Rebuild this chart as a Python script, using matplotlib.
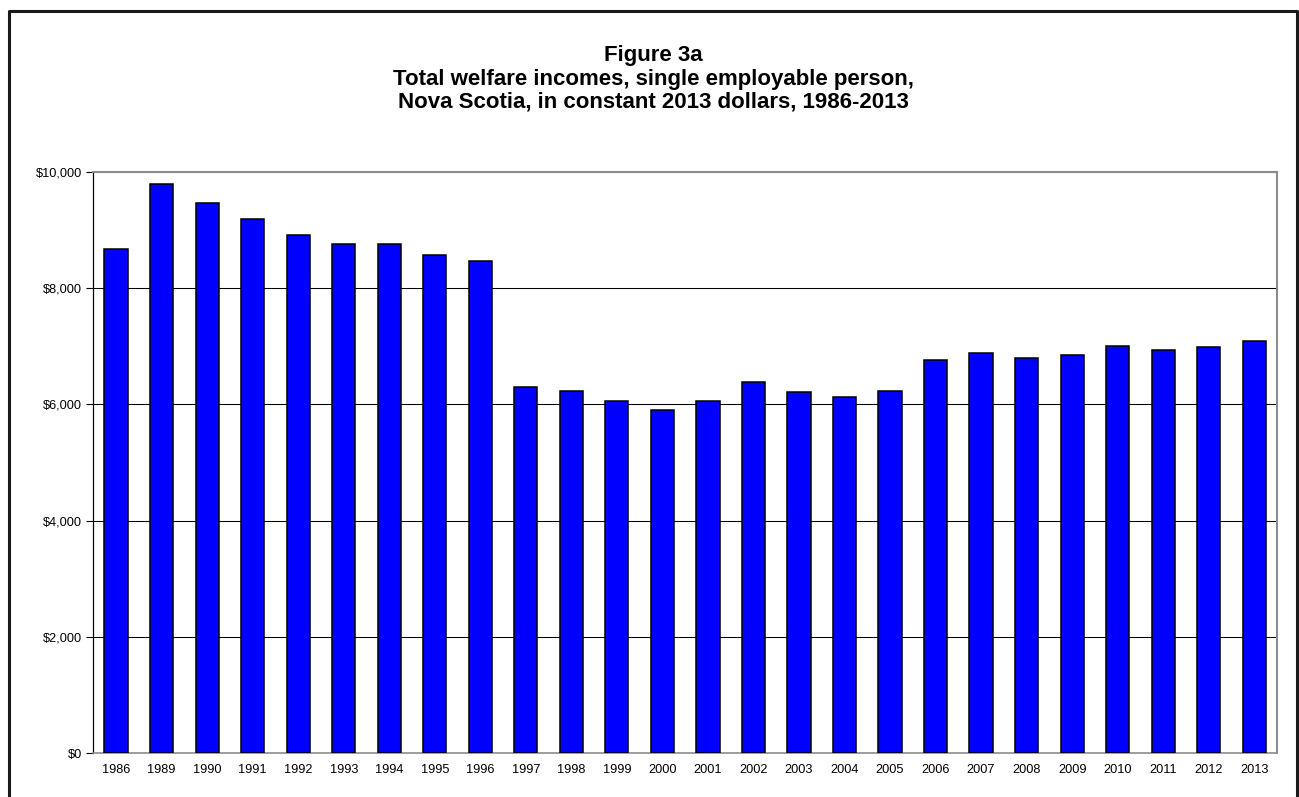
import matplotlib
matplotlib.use("Agg")
import matplotlib.pyplot as plt
from matplotlib.lines import Line2D
from matplotlib.ticker import FuncFormatter

years = ["1986", "1989", "1990", "1991", "1992", "1993", "1994", "1995", "1996",
         "1997", "1998", "1999", "2000", "2001", "2002", "2003", "2004", "2005",
         "2006", "2007", "2008", "2009", "2010", "2011", "2012", "2013"]
incomes = [8670, 9790, 9460, 9190, 8920, 8760, 8750, 8570, 8470,
           6290, 6230, 6060, 5900, 6060, 6390, 6220, 6130, 6230,
           6770, 6890, 6790, 6840, 7010, 6930, 6980, 7090]
y_ticks = [0, 2000, 4000, 6000, 8000, 10000]
title_lines = ["Figure 3a",
               "Total welfare incomes, single employable person,",
               "Nova Scotia, in constant 2013 dollars, 1986-2013"]

plt.rcParams['font.family'] = ['Liberation Sans', 'DejaVu Sans']

W, H = 1299, 797
fig = plt.figure(figsize=(W / 100, H / 100), dpi=100)
fig.patch.set_facecolor("white")

left, right, top, bottom = 93.3, 1277, 171.7, 753.3
ax = fig.add_axes([left / W, 1 - bottom / H, (right - left) / W, (bottom - top) / H])

x = list(range(len(years)))
ax.bar(x, incomes, width=0.51, color="#0000FF", edgecolor="black", linewidth=1.1, zorder=3)

ax.set_xlim(-0.5, len(years) - 0.5)
ax.set_ylim(0, 10000)
ax.set_yticks(y_ticks)
ax.yaxis.set_major_formatter(FuncFormatter(lambda v, p: "${:,.0f}".format(v)))
ax.set_xticks(x)
ax.set_xticklabels(years)
ax.tick_params(axis="x", length=0, labelsize=9.2, pad=8)
ax.tick_params(axis="y", length=5, width=0.8, labelsize=9.2, pad=3, direction="out")

ax.grid(axis="y", color="black", linewidth=0.75, zorder=0)
ax.set_axisbelow(True)
for s in ["top", "right"]:
    ax.spines[s].set_color("#8c8c8c")
    ax.spines[s].set_linewidth(1.5)
ax.spines["bottom"].set_color("#8c8c8c")
ax.spines["bottom"].set_linewidth(1.2)
ax.spines["left"].set_color("black")
ax.spines["left"].set_linewidth(0.9)

# Title
ys = [55, 79, 102]
for t, yy in zip(title_lines, ys):
    fig.text(653 / W, 1 - yy / H, t, ha="center", va="center",
             fontsize=16, fontweight="bold")

# Outer frame (left, top, right)
fx0, fx1, fy0 = 9 / W, 1297 / W, 1 - 10.7 / H
fig.add_artist(Line2D([fx0, fx0, fx1, fx1], [0, fy0, fy0, 0],
                      transform=fig.transFigure, color="#1a1a1a", linewidth=2.2))

fig.savefig("out.png", dpi=100)
